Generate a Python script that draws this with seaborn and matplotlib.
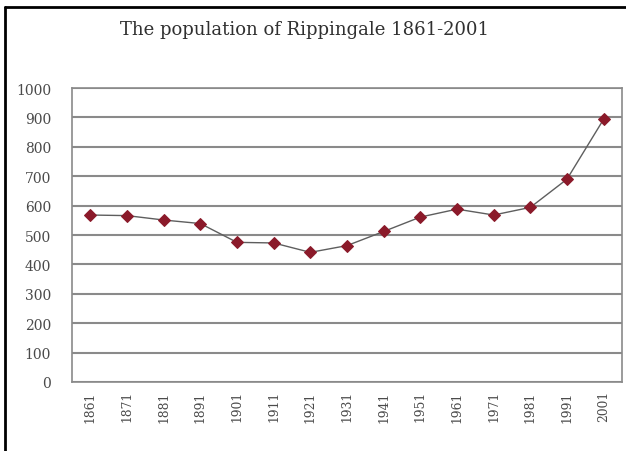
import matplotlib
matplotlib.use("Agg")
import matplotlib.pyplot as plt
import seaborn as sns
import pandas as pd

years = ["1861", "1871", "1881", "1891", "1901", "1911", "1921", "1931",
         "1941", "1951", "1961", "1971", "1981", "1991", "2001"]
population = [568, 566, 551, 539, 475, 473, 441, 464,
              512, 561, 588, 568, 594, 690, 894]
y_ticks = [0, 100, 200, 300, 400, 500, 600, 700, 800, 900, 1000]
title = "The population of Rippingale 1861-2001"

df = pd.DataFrame({"year": years, "population": population})

sns.set_theme(style="white")
plt.rcParams["font.family"] = ["DejaVu Serif"]

fig = plt.figure(figsize=(6.26, 4.52), dpi=100)
ax = fig.add_axes([0.115, 0.1527, 0.8786, 0.6503])

for v in y_ticks:
    ax.axhline(v, color="#8a8a8a", lw=1.5, zorder=1)

sns.lineplot(data=df, x="year", y="population", sort=False, ax=ax,
             color="#5e5e5e", lw=1.0, marker="D", markersize=6,
             markerfacecolor="#8b1a2a", markeredgecolor="#8b1a2a", zorder=3)

ax.set_xlim(-0.5, len(years) - 0.5)
ax.set_ylim(0, 1000)
ax.set_yticks(y_ticks)
ax.set_yticklabels([str(v) for v in y_ticks], fontsize=10, color="#4a4a4a")
ax.set_xticks(range(len(years)))
ax.set_xticklabels(years, rotation=90, fontsize=8.8, color="#4a4a4a")
ax.tick_params(axis="y", length=0, pad=15)
ax.tick_params(axis="x", length=0, pad=6)
ax.set_xlabel("")
ax.set_ylabel("")
for s in ax.spines.values():
    s.set_color("#8a8a8a")
    s.set_linewidth(1.2)

fig.text(0.486, 0.934, title, ha="center", va="center", fontsize=13,
         color="#303030")

# figure frame (top and left edges visible)
fig.add_artist(plt.Line2D([0.008, 1.0], [0.982, 0.982], color="black", lw=2.0,
                          transform=fig.transFigure))
fig.add_artist(plt.Line2D([0.008, 0.008], [0.0, 0.982], color="black", lw=2.0,
                          transform=fig.transFigure))

fig.savefig("out.png", dpi=100)
